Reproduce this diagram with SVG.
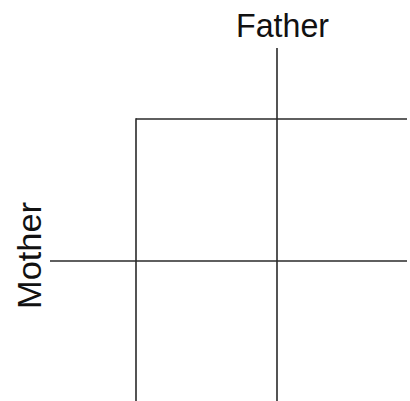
<svg xmlns="http://www.w3.org/2000/svg" width="410" height="401" viewBox="0 0 410 401">
<style>
.l{stroke:#2a2a2a;stroke-width:1.6;fill:none}
.t{font-family:"Liberation Sans",Arial,sans-serif;font-size:33px;fill:#111}
</style>
<rect width="410" height="401" fill="#fff"/>
<g id="connectors">
<line class="l" x1="136" y1="119" x2="407" y2="119"/>
<line class="l" x1="136" y1="118.2" x2="136" y2="401"/>
<line class="l" x1="277" y1="48" x2="277" y2="401"/>
<line class="l" x1="50" y1="261" x2="407" y2="261"/>
</g>
<g id="father"><text class="t" x="236" y="37" textLength="93" lengthAdjust="spacingAndGlyphs">Father</text></g>
<g id="mother"><text class="t" transform="translate(41,309) rotate(-90)" x="0" y="0" textLength="107" lengthAdjust="spacingAndGlyphs">Mother</text></g>
</svg>
